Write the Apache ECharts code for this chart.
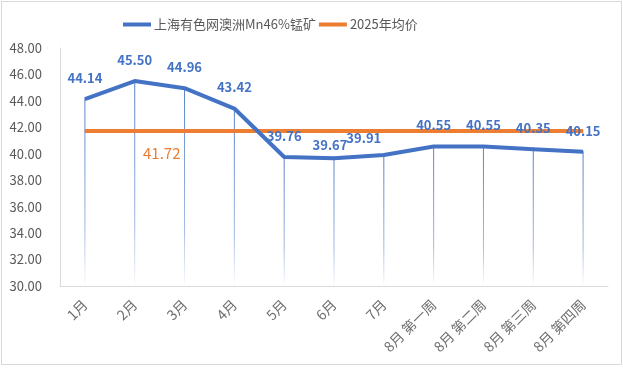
<!DOCTYPE html>
<html>
<head>
<meta charset="utf-8">
<script src="https://cdn.jsdelivr.net/npm/echarts@6/dist/echarts.min.js"></script>
<style>
  html, body { margin: 0; padding: 0; background: #fff; }
  #frame { position: absolute; left: 1px; top: 1px; width: 619px; height: 362px; border: 1px solid #d9d9d9; }
  #chart { position: absolute; left: 0; top: 0; width: 623px; height: 377px; }
</style>
</head>
<body>
<div id="frame"></div>
<div id="chart"></div>
<script>
  var categories = ['1月', '2月', '3月', '4月', '5月', '6月', '7月', '8月 第一周', '8月 第二周', '8月 第三周', '8月 第四周'];
  var priceValues = [44.14, 45.50, 44.96, 43.42, 39.76, 39.67, 39.91, 40.55, 40.55, 40.35, 40.15];
  var avgValue = 41.72;
  var avgValues = categories.map(function () { return avgValue; });
  var yTicks = { min: 30, max: 48, interval: 2 };

  var seriesName = '上海有色网澳洲Mn46%锰矿';
  var avgName = '2025年均价';
  var font = '"Noto Sans CJK SC", "Noto Sans", sans-serif';

  // 个别标签位置微调
  var labelOffsets = { 5: [-4, 8], 6: [-20, 4] };
  var priceData = priceValues.map(function (v, i) {
    var item = { value: v };
    if (labelOffsets[i]) item.label = { offset: labelOffsets[i] };
    return item;
  });
  var avgData = avgValues.map(function (v, i) {
    if (i !== 1) return v;
    return { value: v, label: { show: true, position: 'bottom', offset: [27, 9] } };
  });

  var chart = echarts.init(document.getElementById('chart'));
  chart.setOption({
    animation: false,
    textStyle: { fontFamily: font },
    legend: {
      data: [seriesName, avgName],
      top: 13,
      left: 118,
      itemWidth: 28,
      itemHeight: 4,
      itemGap: 3,
      icon: 'rect',
      textStyle: { color: '#595959', fontSize: 13, fontFamily: font, padding: [0, 0, 0, -2] }
    },
    grid: { left: 60, right: 15, top: 48, bottom: 91 },
    xAxis: {
      type: 'category',
      data: categories,
      boundaryGap: true,
      axisLine: { lineStyle: { color: '#d9d9d9' } },
      axisTick: { show: false },
      axisLabel: { rotate: 45, color: '#6f6f6f', fontSize: 14, margin: 16, fontFamily: font }
    },
    yAxis: {
      type: 'value',
      min: yTicks.min,
      max: yTicks.max,
      interval: yTicks.interval,
      axisLine: { show: true, lineStyle: { color: '#d9d9d9' } },
      axisTick: { show: false },
      splitLine: { show: false },
      axisLabel: {
        color: '#595959', fontSize: 13, margin: 18, fontFamily: font,
        formatter: function (v) { return v.toFixed(2); }
      }
    },
    series: [
      {
        name: 'drop',
        type: 'bar',
        data: priceValues,
        barWidth: 1,
        silent: true,
        z: 1,
        itemStyle: {
          color: new echarts.graphic.LinearGradient(0, 0, 0, 1, [
            { offset: 0, color: 'rgba(68,114,196,0.9)' },
            { offset: 0.7, color: 'rgba(68,114,196,0.5)' },
            { offset: 1, color: 'rgba(68,114,196,0.02)' }
          ])
        }
      },
      {
        name: seriesName,
        type: 'line',
        data: priceData,
        z: 3,
        symbol: 'circle',
        symbolSize: 1,
        showSymbol: true,
        lineStyle: { color: '#4472C4', width: 4 },
        itemStyle: { color: '#4472C4' },
        label: {
          show: true,
          position: 'top',
          distance: 14,
          color: '#4472C4',
          fontSize: 13,
          fontWeight: 'bold',
          fontFamily: font,
          formatter: function (p) { return Number(p.value).toFixed(2); }
        }
      },
      {
        name: avgName,
        type: 'line',
        data: avgData,
        z: 2,
        symbol: 'circle',
        symbolSize: 1,
        showSymbol: true,
        lineStyle: { color: '#ED7D31', width: 4 },
        itemStyle: { color: '#ED7D31' },
        label: {
          show: false,
          color: '#ED7D31',
          fontSize: 15,
          fontFamily: font,
          formatter: function (p) { return Number(p.value).toFixed(2); }
        }
      }
    ]
  });
</script>
</body>
</html>
